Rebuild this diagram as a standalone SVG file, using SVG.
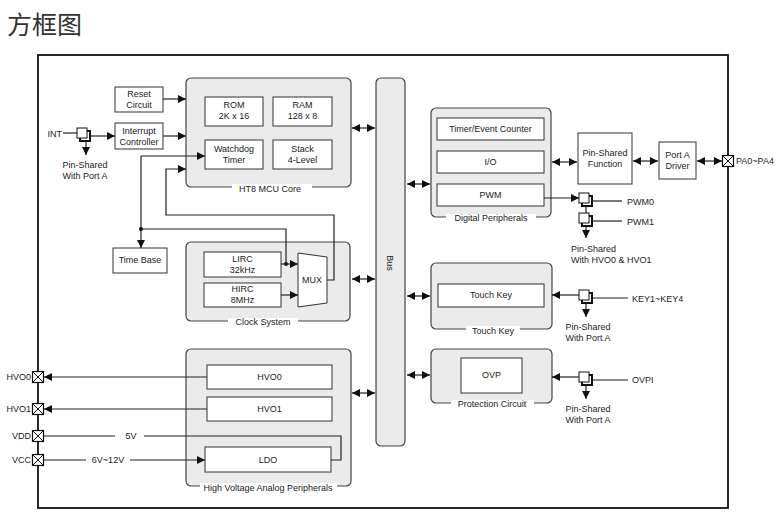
<svg xmlns="http://www.w3.org/2000/svg" width="781" height="528" viewBox="0 0 781 528">
<defs>
<marker id="ah" markerUnits="userSpaceOnUse" markerWidth="8" markerHeight="8" refX="8" refY="4" orient="auto-start-reverse">
<path d="M0,0 L8,4 L0,8 z" fill="#111"/>
</marker>
<style>
text{font-family:"Liberation Sans",Arial,sans-serif;font-size:9px;fill:#222}
.c{text-anchor:middle}
.r{text-anchor:end}
.grp{fill:#ebebeb;stroke:#444;stroke-width:1.2}
.box{fill:#fff;stroke:#333;stroke-width:1}
.ln{fill:none;stroke:#222;stroke-width:1.2}
.ar{fill:none;stroke:#222;stroke-width:1.2;marker-end:url(#ah)}
.da{fill:none;stroke:#222;stroke-width:1.2;marker-start:url(#ah);marker-end:url(#ah)}
.gap{fill:#fff;stroke:none}
.pin{fill:#fff;stroke:#111;stroke-width:1.2}
.sb{fill:#fff;stroke:#111;stroke-width:2}
.sf{fill:#fff;stroke:#111;stroke-width:1}
</style>
<g id="sym">
<rect class="sb" x="3" y="3" width="10" height="10"/>
<rect class="sf" x="0" y="0" width="10" height="10"/>
</g>
<g id="xpin">
<rect class="pin" x="-5.5" y="-5.5" width="11" height="11"/>
<path d="M-5.5,-5.5 L5.5,5.5 M5.5,-5.5 L-5.5,5.5" stroke="#111" stroke-width="1"/>
</g>
</defs>
<rect width="781" height="528" fill="#fff"/>
<text x="7" y="34" style="font-family:'Noto Sans CJK SC','Noto Sans CJK JP',sans-serif;font-size:25px;fill:#333">方框图</text>
<rect x="38" y="55" width="690" height="453" fill="none" stroke="#111" stroke-width="1.8"/>

<g id="mcu-core">
<rect class="grp" x="186" y="78" width="165" height="109" rx="5"/>
<rect class="gap" x="232" y="184" width="80" height="11"/>
<text class="c" x="270" y="192">HT8 MCU Core</text>
</g>
<g id="rom"><rect class="box" x="205" y="97" width="58" height="29"/><text class="c" x="234" y="108">ROM</text><text class="c" x="234" y="119">2K x 16</text></g>
<g id="ram"><rect class="box" x="273" y="97" width="59" height="29"/><text class="c" x="302.5" y="108">RAM</text><text class="c" x="302.5" y="119">128 x 8</text></g>
<g id="watchdog"><rect class="box" x="205" y="140" width="58" height="29"/><text class="c" x="234" y="152">Watchdog</text><text class="c" x="234" y="163">Timer</text></g>
<g id="stack"><rect class="box" x="273" y="140" width="59" height="29"/><text class="c" x="302.5" y="152">Stack</text><text class="c" x="302.5" y="163">4-Level</text></g>
<g id="reset"><rect class="box" x="115" y="87" width="48" height="25"/><text class="c" x="139" y="97">Reset</text><text class="c" x="139" y="108">Circuit</text></g>
<g id="interrupt"><rect class="box" x="115" y="123" width="48" height="26"/><text class="c" x="139" y="134">Interrupt</text><text class="c" x="139" y="145">Controller</text></g>
<g id="int-pin">
<text class="r" x="62" y="137">INT</text>
<use href="#sym" x="77" y="128"/>
<text class="c" x="85" y="168">Pin-Shared</text>
<text class="c" x="85" y="179">With Port A</text>
</g>
<g id="timebase"><rect class="box" x="113" y="248" width="54" height="25"/><text class="c" x="140" y="263">Time Base</text></g>

<g id="clock-system">
<rect class="grp" x="186" y="242" width="164" height="79" rx="5"/>
<rect class="gap" x="228" y="318" width="70" height="10"/>
<text class="c" x="263" y="325">Clock System</text>
</g>
<g id="lirc"><rect class="box" x="204" y="252" width="77" height="25"/><text class="c" x="242.5" y="262">LIRC</text><text class="c" x="242.5" y="273">32kHz</text></g>
<g id="hirc"><rect class="box" x="204" y="283" width="77" height="24"/><text class="c" x="242.5" y="292">HIRC</text><text class="c" x="242.5" y="303">8MHz</text></g>
<g id="mux"><path class="box" d="M298,253 L327,257 L327,303 L298,307 z"/><text class="c" x="312" y="283">MUX</text></g>

<g id="hv-analog">
<rect class="grp" x="186" y="349" width="165" height="137" rx="5"/>
<rect class="gap" x="200" y="483" width="137" height="10"/>
<text class="c" x="268" y="491">High Voltage Analog Peripherals</text>
</g>
<g id="hvo0"><rect class="box" x="207" y="365" width="125" height="24"/><text class="c" x="269.5" y="380">HVO0</text></g>
<g id="hvo1"><rect class="box" x="207" y="397" width="125" height="24"/><text class="c" x="269.5" y="412">HVO1</text></g>
<g id="ldo"><rect class="box" x="205" y="447" width="126" height="25"/><text class="c" x="268" y="463">LDO</text></g>

<g id="bus">
<rect class="grp" x="376" y="78" width="29" height="368" rx="5"/>
<text class="c" transform="translate(387,263) rotate(90)">Bus</text>
</g>

<g id="digital">
<rect class="grp" x="431" y="108" width="120" height="109" rx="5"/>
<rect class="gap" x="446" y="214" width="90" height="10"/>
<text class="c" x="491" y="221">Digital Peripherals</text>
</g>
<g id="timer"><rect class="box" x="437" y="118" width="107" height="22"/><text class="c" x="490.5" y="132">Timer/Event Counter</text></g>
<g id="io"><rect class="box" x="437" y="151" width="107" height="22"/><text class="c" x="490.5" y="165">I/O</text></g>
<g id="pwm"><rect class="box" x="437" y="184" width="107" height="22"/><text class="c" x="490.5" y="198">PWM</text></g>
<g id="pin-shared-function"><rect class="box" x="578" y="133" width="54" height="51"/><text class="c" x="605" y="156">Pin-Shared</text><text class="c" x="605" y="167">Function</text></g>
<g id="port-a-driver"><rect class="box" x="659" y="142" width="37" height="37"/><text class="c" x="677.5" y="158">Port A</text><text class="c" x="677.5" y="169">Driver</text></g>
<g id="pa-pin"><use href="#xpin" x="728" y="161"/><text x="736" y="164">PA0~PA4</text></g>
<g id="pwm-pins">
<use href="#sym" x="579" y="193"/>
<use href="#sym" x="579" y="213"/>
<text x="627" y="205">PWM0</text>
<text x="627" y="225">PWM1</text>
<text x="571" y="252">Pin-Shared</text>
<text x="571" y="263">With HVO0 &amp; HVO1</text>
</g>

<g id="touch-key">
<rect class="grp" x="431" y="263" width="121" height="66" rx="5"/>
<rect class="gap" x="466" y="326" width="54" height="10"/>
<text class="c" x="493" y="334">Touch Key</text>
</g>
<g id="touch-key-inner"><rect class="box" x="438" y="284" width="106" height="23"/><text class="c" x="491" y="298">Touch Key</text></g>
<g id="key-pin">
<use href="#sym" x="579" y="290"/>
<text x="632" y="302">KEY1~KEY4</text>
<text class="c" x="588" y="330">Pin-Shared</text>
<text class="c" x="588" y="341">With Port A</text>
</g>

<g id="protection">
<rect class="grp" x="431" y="349" width="121" height="54" rx="5"/>
<rect class="gap" x="451" y="400" width="83" height="10"/>
<text class="c" x="492" y="407">Protection Circuit</text>
</g>
<g id="ovp"><rect class="box" x="461" y="358" width="61" height="35"/><text class="c" x="491.5" y="378">OVP</text></g>
<g id="ovpi-pin">
<use href="#sym" x="579" y="372"/>
<text x="632" y="383">OVPI</text>
<text class="c" x="588" y="412">Pin-Shared</text>
<text class="c" x="588" y="423">With Port A</text>
</g>

<g id="left-pins">
<use href="#xpin" x="38" y="377"/><text class="r" x="31" y="380">HVO0</text>
<use href="#xpin" x="38" y="409"/><text class="r" x="31" y="412">HVO1</text>
<use href="#xpin" x="38" y="436"/><text class="r" x="31" y="439">VDD</text>
<use href="#xpin" x="38" y="460"/><text class="r" x="31" y="463">VCC</text>
<text class="c" x="131" y="439">5V</text>
<text class="c" x="108" y="463">6V~12V</text>
</g>

<g id="connectors">
<path class="ar" d="M163,99 H186"/>
<path class="ar" d="M163,136 H186"/>
<path class="ln" d="M63,133 H77"/>
<path class="ar" d="M90,136 H115"/>
<path class="ar" d="M86,141 V155"/>
<path class="ar" d="M141,156 H205"/>
<path class="ar" d="M141,156 V248"/>
<path class="ln" d="M141,229 H286 V264"/>
<circle cx="141" cy="229" r="2" fill="#111"/>
<circle cx="286" cy="264" r="2" fill="#111"/>
<path class="ar" d="M281,264 H298"/>
<path class="ar" d="M281,295 H298"/>
<path class="ar" d="M327,280 H334 V215 H166 V169 H186"/>
<path class="da" d="M352,128 H375"/>
<path class="da" d="M352,279 H375"/>
<path class="da" d="M352,393 H375"/>
<path class="da" d="M407,184 H430"/>
<path class="da" d="M407,296 H430"/>
<path class="da" d="M407,375 H430"/>
<path class="da" d="M552,162 H577"/>
<path class="da" d="M633,161 H658"/>
<path class="da" d="M697,161 H722"/>
<path class="ar" d="M544,198 H579"/>
<path class="ln" d="M592,201 H622"/>
<path class="ln" d="M586,206 V213"/>
<path class="ln" d="M592,221 H622"/>
<path class="ar" d="M586,226 V238"/>
<path class="ar" d="M579,295 H552"/>
<path class="ln" d="M592,298 H628"/>
<path class="ar" d="M586,303 V317"/>
<path class="ar" d="M579,377 H552"/>
<path class="ln" d="M592,380 H628"/>
<path class="ar" d="M586,385 V399"/>
<path class="ar" d="M207,377 H44"/>
<path class="ar" d="M207,409 H44"/>
<path class="ln" d="M44,436 H115 M144,436 H341 V460 H331"/>
<path class="ln" d="M44,460 H86"/>
<path class="ar" d="M130,460 H205"/>
</g>
</svg>
